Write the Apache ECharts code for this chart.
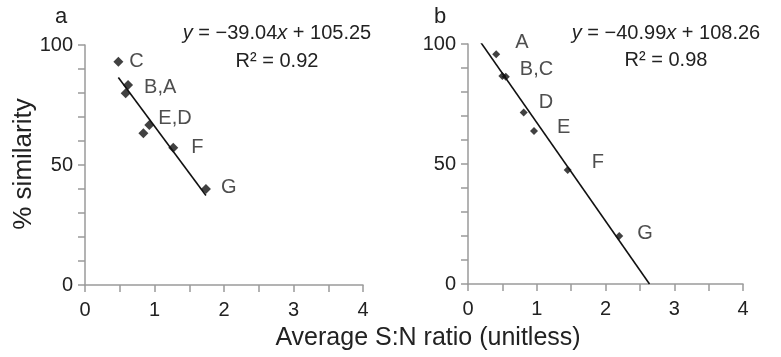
<!DOCTYPE html>
<html>
<head>
<meta charset="utf-8">
<script src="https://cdn.jsdelivr.net/npm/echarts@6/dist/echarts.min.js"></script>
<style>
  html, body { margin: 0; padding: 0; background: #fff; }
  #chart { width: 781px; height: 357px; }
</style>
</head>
<body>
<div id="chart"></div>
<script>
// panel a: measured points (x = S:N ratio, y = % similarity)
const xA = [0.48, 0.62, 0.585, 0.925, 0.84, 1.27, 1.74];
const yA = [93.0, 83.3, 79.9, 66.7, 63.2, 57.2, 40.0];
const labelsA = ["C", "B,A", "", "E,D", "", "F", "G"];
const fitA = [[0.48, 86.5], [1.74, 37.3]];

// panel b
const xB = [0.41, 0.50, 0.55, 0.81, 0.96, 1.45, 2.20];
const yB = [95.7, 86.7, 86.4, 71.5, 63.75, 47.5, 20.0];
const labelsB = ["A", "", "B,C", "D", "E", "F", "G"];
const fitB = [[0.19, 100.5], [2.64, 0]];

// label nudges (px) next to each point
const offA = { "C": [6, 0], "B,A": [11, 2], "E,D": [4, -6], "F": [13, 0], "G": [10, -2] };
const offB = { "A": [15, -12], "B,C": [10, -7], "D": [11, -10], "E": [19, -4], "F": [20, -8], "G": [14, -3] };

const FONT = "Liberation Sans, Arial, Helvetica, sans-serif";
const AXIS = "#9a9a9a";
const TEXT = "#222";

const chart = echarts.init(document.getElementById("chart"));

function pts(xs, ys, labels, offs) {
  return xs.map((x, i) => ({
    value: [x, ys[i]],
    label: labels[i]
      ? { show: true, formatter: labels[i], offset: offs[labels[i]] }
      : { show: false },
  }));
}

function axis(gi, max, step, minorSplit, margin) {
  return {
    type: "value", gridIndex: gi, min: 0, max: max, interval: step,
    axisLine: { show: true, onZero: false, lineStyle: { color: AXIS, width: 1.5 } },
    axisTick: { show: true, length: 7, lineStyle: { color: AXIS, width: 1.5 } },
    minorTick: { show: true, splitNumber: minorSplit, length: 7, lineStyle: { color: AXIS, width: 1.5 } },
    axisLabel: { color: TEXT, fontSize: 20, fontFamily: FONT, margin: margin },
    splitLine: { show: false },
    minorSplitLine: { show: false },
  };
}

function txt(x, y, text, size) {
  return {
    type: "text", x: x, y: y, z: 100,
    style: { text: text, font: size + "px " + FONT, fill: TEXT, align: "center", verticalAlign: "middle" },
  };
}

// equation as plain text pieces (italic variables), centred on cx
const measure = document.createElement("canvas").getContext("2d");
function equation(cx, cy, parts) {
  const fonts = parts.map((p) => (p[1] ? "italic " : "") + "20px " + FONT);
  const widths = parts.map((p, i) => { measure.font = fonts[i]; return measure.measureText(p[0]).width; });
  let x = cx - widths.reduce((a, b) => a + b, 0) / 2;
  return parts.map((p, i) => {
    const el = {
      type: "text", x: x, y: cy, z: 100,
      style: { text: p[0], font: fonts[i], fill: TEXT, align: "left", verticalAlign: "middle" },
    };
    x += widths[i];
    return el;
  });
}

chart.setOption({
  animation: false,
  textStyle: { fontFamily: FONT },
  grid: [
    { left: 85, top: 45, width: 278, height: 240 },
    { left: 468, top: 44, width: 275, height: 240 },
  ],
  xAxis: [axis(0, 4, 1, 2, 15), axis(1, 4, 1, 2, 15)],
  yAxis: [axis(0, 100, 50, 5, 12), axis(1, 100, 50, 5, 12)],
  graphic: [
    txt(61, 17, "a", 22),
    txt(440, 17, "b", 22),
    ...equation(277, 33, [["y", true], [" = −39.04", false], ["x", true], [" + 105.25", false]]),
    txt(277, 61, "R² = 0.92", 20),
    ...equation(666, 33, [["y", true], [" = −40.99", false], ["x", true], [" + 108.26", false]]),
    txt(666, 60, "R² = 0.98", 20),
    Object.assign(txt(24, 164, "% similarity", 26), { rotation: Math.PI / 2 }),
    txt(428, 338, "Average S:N ratio (unitless)", 25),
  ],
  series: [
    {
      type: "line", xAxisIndex: 0, yAxisIndex: 0, data: fitA, symbol: "none",
      lineStyle: { color: "#111", width: 1.6 },
    },
    {
      type: "scatter", xAxisIndex: 0, yAxisIndex: 0, symbol: "diamond", symbolSize: 10,
      itemStyle: { color: "#111" },
      label: { position: "right", distance: 0, color: TEXT, fontSize: 20, fontFamily: FONT },
      data: pts(xA, yA, labelsA, offA),
    },
    {
      type: "line", xAxisIndex: 1, yAxisIndex: 1, data: fitB, symbol: "none",
      lineStyle: { color: "#111", width: 1.6 },
    },
    {
      type: "scatter", xAxisIndex: 1, yAxisIndex: 1, symbol: "diamond", symbolSize: 8,
      itemStyle: { color: "#111" },
      label: { position: "right", distance: 0, color: TEXT, fontSize: 20, fontFamily: FONT },
      data: pts(xB, yB, labelsB, offB),
    },
  ],
});
</script>
</body>
</html>
